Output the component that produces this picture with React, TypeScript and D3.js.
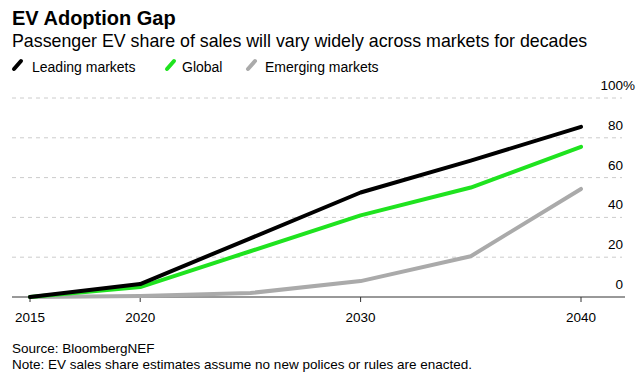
import { useEffect, useRef } from "react";
import * as d3 from "d3";

const years = [2015, 2020, 2025, 2030, 2035, 2040];
const leading = [0, 6.5, 29.5, 52.5, 68.5, 85.5];
const global = [0, 5, 23, 41, 55, 75.5];
const emerging = [0, 0.5, 2, 8, 20.5, 54.3];
const seriesNames = ["Leading markets", "Global", "Emerging markets"];
const seriesColors = ["#000000", "#1fe31f", "#aaaaaa"];
const xTicks = [2015, 2020, 2030, 2040];
const yTicks = [0, 20, 40, 60, 80, 100];

const W = 640;
const H = 373;
const FONT = "'Liberation Sans', Arial, Helvetica, sans-serif";

export default function App() {
  const svgRef = useRef<SVGSVGElement>(null);

  useEffect(() => {
    const el = svgRef.current;
    if (!el) return;
    d3.select(el).selectAll("*").remove();

    const svg = d3.select(el).attr("width", W).attr("height", H).attr("viewBox", `0 0 ${W} ${H}`);

    const x = d3.scaleLinear().domain([2015, 2040]).range([30, 581]);
    const y = d3.scaleLinear().domain([0, 100]).range([297, 98]);

    // header
    svg.append("text").attr("x", 12).attr("y", 25).attr("font-family", FONT)
      .attr("font-size", 20).attr("font-weight", 700).attr("fill", "#000").text("EV Adoption Gap");
    svg.append("text").attr("x", 12).attr("y", 47).attr("font-family", FONT)
      .attr("font-size", 17.8).attr("fill", "#000")
      .text("Passenger EV share of sales will vary widely across markets for decades");

    // legend
    const markerX = [13, 166, 247];
    const textX = [32, 182, 265];
    seriesNames.forEach((name, i) => {
      svg.append("line").attr("x1", markerX[i] + 1).attr("y1", 69).attr("x2", markerX[i] + 8).attr("y2", 61)
        .attr("stroke", seriesColors[i]).attr("stroke-width", 4).attr("stroke-linecap", "round");
      svg.append("text").attr("x", textX[i]).attr("y", 72).attr("font-family", FONT)
        .attr("font-size", 14).attr("fill", "#000").text(name);
    });

    // gridlines + y labels
    yTicks.forEach((t) => {
      if (t > 0) {
        svg.append("line").attr("x1", 12).attr("x2", 622).attr("y1", y(t)).attr("y2", y(t))
          .attr("stroke", "#cccccc").attr("stroke-width", 1).attr("stroke-dasharray", "4,4");
      }
      svg.append("text").attr("x", 623).attr("y", y(t) - 8).attr("text-anchor", "end")
        .attr("font-family", FONT).attr("font-size", 13.5).attr("fill", "#000").text(String(t));
      if (t === 100) {
        svg.append("text").attr("x", 623).attr("y", y(t) - 8).attr("font-family", FONT)
          .attr("font-size", 13.5).attr("fill", "#000").text("%");
      }
    });

    // x axis
    svg.append("line").attr("x1", 12).attr("x2", 625).attr("y1", y(0)).attr("y2", y(0))
      .attr("stroke", "#333").attr("stroke-width", 1);
    xTicks.forEach((t) => {
      svg.append("line").attr("x1", x(t)).attr("x2", x(t)).attr("y1", y(0)).attr("y2", y(0) + 5)
        .attr("stroke", "#333").attr("stroke-width", 1);
      svg.append("text").attr("x", x(t)).attr("y", 322).attr("text-anchor", "middle")
        .attr("font-family", FONT).attr("font-size", 13.5).attr("fill", "#000").text(String(t));
    });

    // lines (emerging drawn first, leading on top)
    const line = d3.line<number>().x((_, i) => x(years[i])).y((d) => y(d));
    const series = [leading, global, emerging];
    [2, 1, 0].forEach((i) => {
      svg.append("path").datum(series[i]).attr("d", line).attr("fill", "none")
        .attr("stroke", seriesColors[i]).attr("stroke-width", 4)
        .attr("stroke-linejoin", "round").attr("stroke-linecap", "round");
    });

    // footer
    svg.append("text").attr("x", 12).attr("y", 353).attr("font-family", FONT)
      .attr("font-size", 13.5).attr("fill", "#000").text("Source: BloombergNEF");
    svg.append("text").attr("x", 12).attr("y", 369).attr("font-family", FONT)
      .attr("font-size", 13.5).attr("fill", "#000")
      .text("Note: EV sales share estimates assume no new polices or rules are enacted.");
  }, []);

  return <svg ref={svgRef} style={{ position: "absolute", left: 0, top: 0, background: "#fff" }} />;
}
